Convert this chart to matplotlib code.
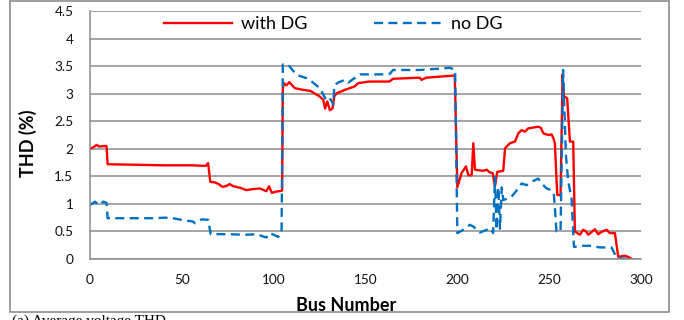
import matplotlib.pyplot as plt
import matplotlib.patches as mpatches

plt.rcParams['font.family'] = ['Lato', 'DejaVu Sans']

# THD profile along the feeder, with and without distributed generation
red_bus = [0, 2, 3.6, 5, 8, 9, 9.6, 25, 40, 55, 63, 64.3, 65.5, 68, 70, 72, 74, 76, 78, 82,
           85, 89, 92.5, 96, 97.5, 99, 101, 104.6, 105, 105.6, 107, 108.5, 111.5, 116, 120,
           125, 127, 128, 129.2, 130.6, 132, 133, 134.3, 136, 138.8, 141.5, 144, 146, 152,
           163, 165, 179.5, 180.5, 183, 198.6, 200, 202.3, 204.7, 206, 207.8, 208.7, 209.6,
           214, 216, 217.7, 219.2, 220.5, 221.7, 225, 226, 228.6, 231.4, 233.2, 235, 236.8,
           238.6, 244, 245.5, 246.8, 249.5, 251.3, 252.2, 253.1, 254.4, 256.2, 257.3, 258,
           259.8, 261.3, 263.1, 264, 266.7, 268.5, 270, 271.3, 274.9, 276.7, 279, 281.3, 283,
           285.8, 287.6, 291, 293, 295]
red_thd = [2.00, 2.03, 2.07, 2.04, 2.05, 2.05, 1.72, 1.71, 1.70, 1.70, 1.69, 1.74, 1.40, 1.39,
           1.36, 1.31, 1.32, 1.36, 1.32, 1.29, 1.25, 1.27, 1.28, 1.23, 1.32, 1.20, 1.22, 1.24,
           3.10, 3.19, 3.15, 3.21, 3.10, 3.07, 3.05, 2.95, 2.89, 2.73, 2.86, 2.70, 2.73, 2.95,
           3.01, 3.03, 3.07, 3.10, 3.13, 3.19, 3.22, 3.22, 3.27, 3.29, 3.25, 3.29, 3.33, 1.30,
           1.56, 1.68, 1.52, 1.52, 2.10, 1.62, 1.60, 1.62, 1.57, 1.56, 1.32, 1.58, 1.60, 2.01,
           2.10, 2.13, 2.28, 2.34, 2.31, 2.37, 2.40, 2.38, 2.28, 2.25, 2.26, 2.20, 2.10, 1.16,
           1.16, 3.35, 2.95, 2.92, 2.13, 2.13, 0.50, 0.44, 0.53, 0.50, 0.44, 0.54, 0.45, 0.50,
           0.53, 0.47, 0.47, 0.04, 0.06, 0.04, 0.00]

blue_bus = [0, 2.7, 4.9, 7.2, 9, 9.6, 24, 35, 40.8, 45, 50, 56, 57.2, 59, 60.8, 64.4, 65.7, 75,
            85, 90.7, 96, 98, 100, 102.5, 104.3, 105, 106, 108, 112.5, 118, 120.7, 125.2, 128,
            128.8, 131, 132.5, 133, 135, 138.8, 140.6, 145.2, 147, 158, 163.3, 165, 179.6,
            188.7, 196, 198.8, 200, 203.2, 206.8, 208.7, 212.3, 216, 217.7, 219.5, 220.5,
            221.4, 222.3, 223.2, 224.2, 225, 227.7, 229.5, 233.2, 235, 237.7, 240.5, 244,
            245.9, 248.6, 251.3, 252.6, 254, 256.2, 257.6, 259.1, 260.4, 262.2, 263.5, 268.5,
            272.2, 277.6, 284, 286.7, 294, 295]
blue_thd = [0.98, 1.04, 0.98, 1.04, 1.02, 0.74, 0.74, 0.74, 0.75, 0.74, 0.71, 0.68, 0.65, 0.68,
            0.72, 0.71, 0.45, 0.45, 0.44, 0.45, 0.39, 0.47, 0.44, 0.40, 0.48, 3.53, 3.52, 3.52,
            3.34, 3.28, 3.22, 3.10, 2.92, 2.86, 2.90, 2.80, 3.15, 3.20, 3.25, 3.20, 3.31, 3.35,
            3.35, 3.36, 3.43, 3.43, 3.45, 3.47, 3.43, 0.47, 0.53, 0.62, 0.59, 0.48, 0.53, 0.56,
            0.47, 1.49, 0.53, 1.30, 0.55, 1.30, 1.07, 1.10, 1.13, 1.28, 1.37, 1.34, 1.40, 1.46,
            1.37, 1.28, 1.25, 1.16, 0.50, 0.50, 3.43, 1.89, 1.40, 1.10, 0.22, 0.24, 0.24, 0.21,
            0.21, 0.02, 0.00, 0.00]

x_ticks = [0, 50, 100, 150, 200, 250, 300]
y_ticks = [0, 0.5, 1, 1.5, 2, 2.5, 3, 3.5, 4, 4.5]

fig = plt.figure(figsize=(6.84, 3.2), dpi=100)
ax = fig.add_axes([90 / 684, 1 - 259 / 320, 551 / 684, 248 / 320])

ax.plot(red_bus, red_thd, color='#ff0000', lw=1.7, label='with DG')
ax.plot(blue_bus, blue_thd, color='#0070c0', lw=1.7, dashes=(3.8, 2.3), label='no DG')

ax.set_xlim(0, 300)
ax.set_ylim(0, 4.5)
ax.set_xticks(x_ticks)
ax.set_yticks(y_ticks)
ax.set_yticklabels(['0', '0.5', '1', '1.5', '2', '2.5', '3', '3.5', '4', '4.5'])
ax.tick_params(length=0, labelsize=9.8, colors='#111111')
ax.tick_params(axis='y', pad=12)
ax.tick_params(axis='x', pad=11)

ax.grid(axis='y', color='#8c8c8c', lw=1.1)
ax.set_axisbelow(True)
for s in ['top', 'right']:
    ax.spines[s].set_visible(False)
for s in ['left', 'bottom']:
    ax.spines[s].set_color('#8c8c8c')
    ax.spines[s].set_linewidth(1.1)

ax.set_xlabel('Bus Number', fontsize=13, fontweight='bold')
ax.xaxis.set_label_coords((346 - 90) / 551, (259 - 297) / 248)
ax.set_ylabel('THD (%)', fontsize=13, fontweight='bold')
ax.yaxis.set_label_coords((37 - 90) / 551, (259 - 143) / 248)

ax.legend(loc='center', bbox_to_anchor=((333 - 90) / 551, (259 - 24) / 248), ncol=2,
          frameon=False, fontsize=13, handlelength=3.75, handletextpad=0.5,
          columnspacing=3.7)

# outer chart frame and caption
fig.patches.append(mpatches.Rectangle((10 / 684, 1 - 312 / 320), 659 / 684, 311 / 320,
                                      transform=fig.transFigure, fill=False,
                                      edgecolor='#8c8c8c', lw=1.2))
fig.text(12 / 684, 1 - 314.5 / 320, '(a) Average voltage THD', fontsize=11, va='top',
         family='Liberation Serif')

fig.savefig('out.png', dpi=100)
